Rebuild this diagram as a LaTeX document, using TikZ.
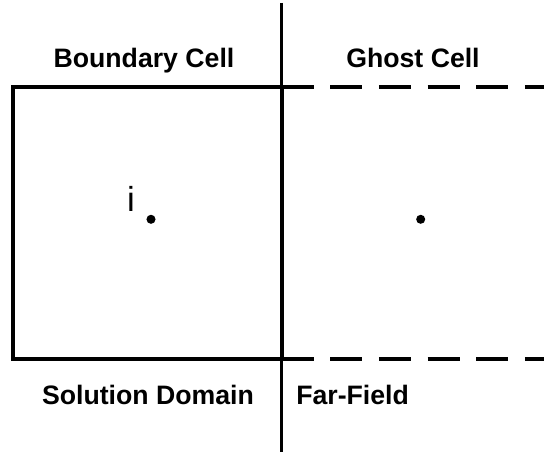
\documentclass[tikz,border=0pt]{standalone}
\usepackage{fontspec}
\setmainfont{Liberation Sans}
\usetikzlibrary{positioning}

\begin{document}
\begin{tikzpicture}[
  x=0.75pt,y=-0.75pt,
  every node/.style={font=\fontsize{20}{22}\selectfont\bfseries,inner sep=0pt},
  wall/.style={line width=3pt},
  ghost/.style={line width=3pt,dash pattern=on 24pt off 12.5pt},
  divider/.style={line width=2.2pt},
  dot/.style={circle,fill,inner sep=0pt,minimum size=6.8pt}
]
\useasboundingbox (0,0) rectangle (544,452);
% cell corners and the interface line
\coordinate (nw) at (13,87);
\coordinate (ne) at (281.5,87);
\coordinate (sw) at (13,359.5);
\coordinate (se) at (281.5,359.5);
\coordinate (top) at (281.5,3);
\coordinate (bot) at (281.5,452);
\coordinate (ghostne) at (544,87);
\coordinate (ghostse) at (544,359.5);
\draw[divider] (top)--(bot);
\draw[wall] (nw) rectangle (se);
\draw[ghost] (ne)--(ghostne);
\draw[ghost] (se)--(ghostse);
% cell centres
\node[dot] (ci) at (151,219.3) {};
\node[dot] (cg) at (420.7,219.3) {};
\node[font=\fontsize{26}{28}\selectfont,anchor=base] (ilab) at (131,212) {i};
% labels
\node[anchor=base] (bcell) at (144,68) {Boundary Cell};
\node[anchor=base] (gcell) at (413,68) {Ghost Cell};
\node[anchor=base] (sdom) at (148,405) {Solution Domain};
\node[anchor=base west] (ffield) at (296,405) {Far-Field};
\end{tikzpicture}
\end{document}
